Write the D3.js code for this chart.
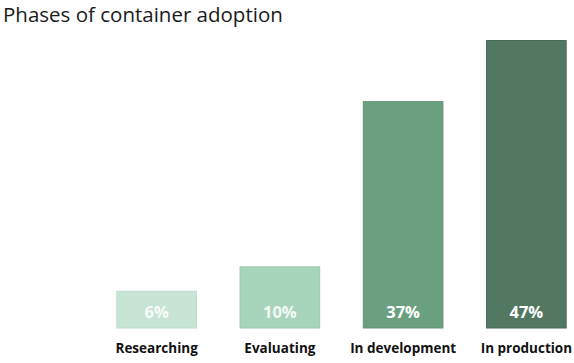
<!DOCTYPE html>
<html><head><meta charset="utf-8">
<script src="https://cdn.jsdelivr.net/npm/d3@7"></script>
<style>body{margin:0;background:#fff}svg{display:block}</style>
</head><body>
<script>
const categories = ["Researching", "Evaluating", "In development", "In production"];
const values = [6, 10, 37, 47];
const valueLabels = ["6%", "10%", "37%", "47%"];
const colors = ["#c8e4d4", "#a8d4bb", "#6a9f80", "#527862"];
const strokes = ["#bcdccb", "#9ccab0", "#5f9374", "#466b56"];

const W = 574, H = 363;
const svg = d3.select("body").append("svg").attr("width", W).attr("height", H);
const font = "'Open Sans', sans-serif";

svg.append("text").attr("x", 3).attr("y", 22)
  .attr("font-family", font).attr("font-size", 20.5).attr("fill", "#1a1a1a")
  .text("Phases of container adoption");

const x = d3.scaleBand().domain(categories).range([95, 588]).paddingInner(0.354).paddingOuter(0.177);
const y = d3.scaleLinear().domain([0, 47]).range([328, 40.5]);

const g = svg.append("g");
g.selectAll("rect").data(categories).join("rect")
  .attr("x", d => x(d)).attr("width", x.bandwidth())
  .attr("y", (d, i) => y(values[i])).attr("height", (d, i) => y(0) - y(values[i]))
  .attr("fill", (d, i) => colors[i]).attr("stroke", (d, i) => strokes[i]).attr("stroke-width", 1);

g.selectAll("text.v").data(categories).join("text").attr("class", "v")
  .attr("x", d => x(d) + x.bandwidth() / 2).attr("y", 318)
  .attr("text-anchor", "middle").attr("font-family", font).attr("font-weight", 700)
  .attr("font-size", 16.5).attr("fill", "#fff").attr("fill-opacity", (d, i) => i < 2 ? 0.9 : 1)
  .text((d, i) => valueLabels[i]);

const xAxis = d3.axisBottom(x).tickSize(0).tickPadding(0);
const ax = svg.append("g").attr("transform", "translate(0,343)").call(xAxis);
ax.select(".domain").remove();
ax.selectAll("text").attr("font-family", font).attr("font-weight", 700)
  .attr("font-size", 13.5).attr("fill", "#111").attr("dy", "0.71em");
</script>
</body></html>
